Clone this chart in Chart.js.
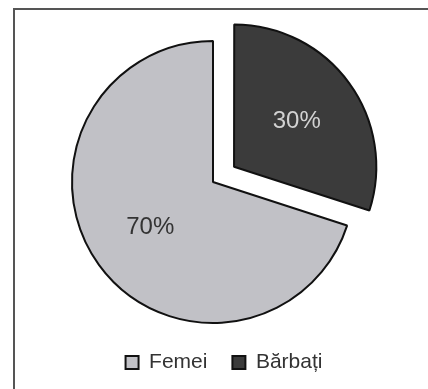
<!DOCTYPE html>
<html>
<head>
<meta charset="utf-8">
<script src="https://cdn.jsdelivr.net/npm/chart.js@4.4.1/dist/chart.umd.min.js"></script>
<style>
    html, body {
        margin: 0;
        padding: 0;
        background: #fff;
    }
    #wrap {
        position: relative;
        width: 428px;
        height: 389px;
        overflow: hidden;
    }
    #frame {
        position: absolute;
        left: 13px;
        top: 8px;
        width: 500px;
        height: 500px;
        border-top: 2px solid #555;
        border-left: 2px solid #555;
    }
    #pieChart {
        position: absolute;
        left: 0;
        top: 0;
    }
</style>
</head>
<body>
<div id="wrap">
    <div id="frame"></div>
    <canvas id="pieChart" width="428" height="389"></canvas>
</div>
<script>
const labels = ['Femei', 'Bărbați'];
const values = [70, 30];
const sliceColors = ['#c1c1c6', '#3b3b3b'];
const labelColors = ['#333333', '#d2d2d2'];
// chart.js moves an arc by offset / 4 pixels
const sliceOffsets = [0, 104];

// percentage text in the middle of each slice
const sliceLabels = {
    id: 'sliceLabels',
    afterDatasetsDraw(chart) {
        const ctx = chart.ctx;
        const meta = chart.getDatasetMeta(0);
        const total = values.reduce((a, b) => a + b, 0);
        meta.data.forEach((arc, i) => {
            const p = arc.getProps(['x', 'y', 'startAngle', 'endAngle', 'outerRadius'], true);
            const mid = (p.startAngle + p.endAngle) / 2;
            const r = p.outerRadius * 0.55 + (arc.options.offset || 0) / 4;
            ctx.save();
            ctx.font = '24px "Liberation Sans", Arial, sans-serif';
            ctx.fillStyle = labelColors[i];
            ctx.textAlign = 'center';
            ctx.textBaseline = 'middle';
            ctx.fillText(Math.round(values[i] / total * 100) + '%', p.x + Math.cos(mid) * r, p.y + Math.sin(mid) * r);
            ctx.restore();
        });
    }
};

// nudge the legend a bit to the right of the pie centre
const legendShift = {
    id: 'legendShift',
    afterLayout(chart) {
        chart.legend.left += 11;
        chart.legend.right += 11;
    }
};

const ctx = document.getElementById('pieChart').getContext('2d');

new Chart(ctx, {
    type: 'pie',
    data: {
        labels: labels,
        datasets: [{
            data: values,
            backgroundColor: sliceColors,
            borderColor: '#111111',
            borderWidth: 2,
            offset: sliceOffsets
        }]
    },
    options: {
        responsive: false,
        animation: false,
        rotation: 108,
        radius: 141,
        layout: {
            padding: { top: 37, bottom: 6, left: 0, right: 2 }
        },
        plugins: {
            tooltip: { enabled: false },
            legend: {
                position: 'bottom',
                labels: {
                    color: '#333333',
                    boxWidth: 13,
                    boxHeight: 13,
                    padding: 25,
                    font: { family: '"Liberation Sans", Arial, sans-serif', size: 21 }
                }
            }
        }
    },
    plugins: [sliceLabels, legendShift]
});
</script>
</body>
</html>
